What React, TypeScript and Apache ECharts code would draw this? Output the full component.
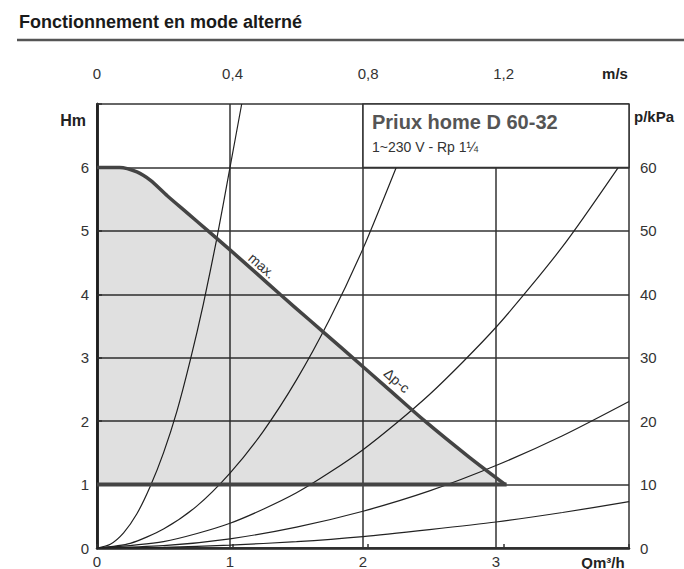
import React, { useEffect, useRef } from "react";
import * as echarts from "echarts";

const titleText = "Fonctionnement en mode alterné";
const pumpName = "Priux home D 60-32";
const pumpSpec = "1~230 V - Rp 1¼";

// flow axis Q (m³/h) and head H (m)
const flowMax = 4;
const headMax = 7;
const pressureMax = 70;
const velocityMax = 1.57; // m/s at Q = 4

// max curve (Δp-c)
const maxCurveQ = [0, 0.17, 0.3, 0.4, 0.53, 0.68, 0.835, 1.0, 1.2, 1.376, 1.6, 1.83, 2.2, 2.466, 2.8, 3.07];
const maxCurveH = [6.0, 6.0, 5.93, 5.8, 5.55, 5.28, 5.0, 4.7, 4.33, 4.0, 3.59, 3.17, 2.49, 2.0, 1.43, 1.0];

// minimum line
const minLineQ = [0, 3.08];
const minLineH = [1, 1];

// system curves
const sysAQ = [0, 0.1, 0.2, 0.3, 0.4, 0.5, 0.6, 0.7, 0.8, 0.9, 1.0, 1.088];
const sysAH = [0, 0.06, 0.24, 0.54, 0.97, 1.5, 2.15, 2.95, 3.85, 4.87, 6.0, 7.0];
const sysBQ = [0, 0.25, 0.5, 0.75, 1.0, 1.25, 1.5, 1.75, 2.0, 2.25, 2.44];
const sysBH = [0, 0.074, 0.3, 0.66, 1.18, 1.84, 2.65, 3.61, 4.72, 6.0, 7.0];
const sysCQ = [0, 0.5, 1.0, 1.5, 2.0, 2.5, 3.0, 3.5, 3.92];
const sysCH = [0, 0.1, 0.39, 0.87, 1.55, 2.42, 3.48, 4.75, 6.0];
const sysDQ = [0, 0.5, 1.0, 1.5, 2.0, 2.5, 3.0, 3.5, 4.0];
const sysDH = [0, 0.036, 0.145, 0.33, 0.58, 0.9, 1.3, 1.77, 2.31];
const sysEQ = [0, 0.5, 1.0, 1.5, 2.0, 2.5, 3.0, 3.5, 4.0];
const sysEH = [0, 0.011, 0.046, 0.1, 0.18, 0.29, 0.41, 0.56, 0.73];

// legend box corners and curve label anchors (data coords)
const boxFrom = [2, 6];
const boxTo = [4, 7];
const maxLabelAt = [1.24, 4.45];
const dpcLabelAt = [2.255, 2.64];

const pairs = (xs: number[], ys: number[]) => xs.map((x, i) => [x, ys[i]]);

const FONT = "Arial, 'Liberation Sans', sans-serif";

export default function App() {
  const ref = useRef<HTMLDivElement>(null);
  useEffect(() => {
    const chart = echarts.init(ref.current!, null, { renderer: "svg" });
    const curve = (xs: number[], ys: number[]) => ({
      type: "line",
      data: pairs(xs, ys),
      smooth: 0.25,
      showSymbol: false,
      symbol: "none",
      lineStyle: { color: "#222", width: 1.2 },
      z: 3,
    });
    const tickLabel = { color: "#333", fontSize: 15 };
    chart.setOption({
      animation: false,
      textStyle: { fontFamily: FONT },
      grid: { left: 97, right: 55, top: 104, bottom: 21 },
      xAxis: [
        {
          type: "value",
          min: 0,
          max: flowMax,
          interval: 1,
          position: "bottom",
          axisLine: { show: true, lineStyle: { color: "#222", width: 2.5 } },
          axisTick: { show: false },
          axisLabel: {
            ...tickLabel,
            formatter: (v: number) => (v >= flowMax ? "" : String(v)),
            margin: 6,
          },
          splitLine: { show: true, lineStyle: { color: "#333", width: 1.5 } },
        },
        {
          type: "value",
          min: 0,
          max: velocityMax,
          interval: 0.4,
          position: "top",
          offset: 15,
          axisLine: { show: true, lineStyle: { color: "#333", width: 1.5 } },
          axisTick: { show: true, length: 4, lineStyle: { color: "#333", width: 1.5 } },
          axisLabel: {
            ...tickLabel,
            formatter: (v: number) =>
              v > 1.45 ? "" : v === 0 ? "0" : v.toFixed(1).replace(".", ","),
            margin: 8,
          },
          splitLine: { show: false },
        },
      ],
      yAxis: [
        {
          type: "value",
          min: 0,
          max: headMax,
          interval: 1,
          position: "left",
          axisLine: { show: true, lineStyle: { color: "#222", width: 2.5 } },
          axisTick: { show: false },
          axisLabel: {
            ...tickLabel,
            formatter: (v: number) => (v >= headMax ? "" : String(v)),
            margin: 8,
          },
          splitLine: { show: true, lineStyle: { color: "#333", width: 1.5 } },
        },
        {
          type: "value",
          min: 0,
          max: pressureMax,
          interval: 10,
          position: "right",
          axisLine: { show: true, lineStyle: { color: "#222", width: 2.5 } },
          axisTick: { show: true, length: 5, lineStyle: { color: "#333", width: 1.5 } },
          axisLabel: {
            ...tickLabel,
            formatter: (v: number) => (v >= pressureMax ? "" : String(v)),
            margin: 11,
          },
          splitLine: { show: false },
        },
      ],
      series: [
        {
          type: "line",
          data: pairs(maxCurveQ, maxCurveH),
          smooth: 0.3,
          symbol: "none",
          lineStyle: { color: "#444", width: 3.5 },
          areaStyle: { color: "rgba(0,0,0,0.12)", origin: 1, opacity: 1 },
          z: 4,
        },
        {
          type: "line",
          data: pairs(minLineQ, minLineH),
          symbol: "none",
          lineStyle: { color: "#444", width: 4 },
          z: 4,
        },
        curve(sysAQ, sysAH),
        curve(sysBQ, sysBH),
        curve(sysCQ, sysCH),
        curve(sysDQ, sysDH),
        curve(sysEQ, sysEH),
      ],
    });

    const px = (pt: number[]) =>
      chart.convertToPixel({ xAxisIndex: 0, yAxisIndex: 0 }, pt) as number[];
    const b0 = px(boxFrom);
    const b1 = px(boxTo);
    const mL = px(maxLabelAt);
    const dL = px(dpcLabelAt);

    const txt = (
      text: string,
      x: number,
      y: number,
      size: number,
      bold: boolean,
      align: string,
      fill = "#222",
      rotation = 0
    ) => ({
      type: "text",
      z: 101,
      x,
      y,
      rotation,
      style: {
        text,
        fontSize: size,
        fontWeight: bold ? "bold" : "normal",
        fontFamily: FONT,
        fill,
        align,
        verticalAlign: "middle",
      },
    });

    chart.setOption({
      graphic: [
        txt(titleText, 19, 22, 18, true, "left", "#1a1a1a"),
        {
          type: "line",
          z: 100,
          shape: { x1: 17, y1: 40, x2: 684, y2: 40 },
          style: { stroke: "#555", lineWidth: 2.5 },
        },
        {
          type: "rect",
          z: 100,
          shape: { x: b0[0], y: b1[1], width: b1[0] - b0[0], height: b0[1] - b1[1] },
          style: { fill: "#fff", stroke: "#333", lineWidth: 1.5 },
        },
        txt(pumpName, b0[0] + 9, b1[1] + 18, 20, true, "left", "#555"),
        txt(pumpSpec, b0[0] + 9, b1[1] + 43, 14, false, "left", "#333"),
        txt("max.", mL[0], mL[1], 14, false, "center", "#333", -0.72),
        txt("Δp-c", dL[0], dL[1], 14, false, "center", "#333", -0.72),
        txt("Hm", 86, 120, 16, true, "right"),
        txt("p/kPa", 634, 116, 15, true, "left"),
        txt("m/s", 615, 73, 15, true, "center"),
        txt("Qm³/h", 603, 562, 15, true, "center"),
      ],
    });
    return () => chart.dispose();
  }, []);
  return (
    <div
      ref={ref}
      style={{ position: "absolute", left: 0, top: 0, width: 684, height: 569, background: "#fff" }}
    />
  );
}
